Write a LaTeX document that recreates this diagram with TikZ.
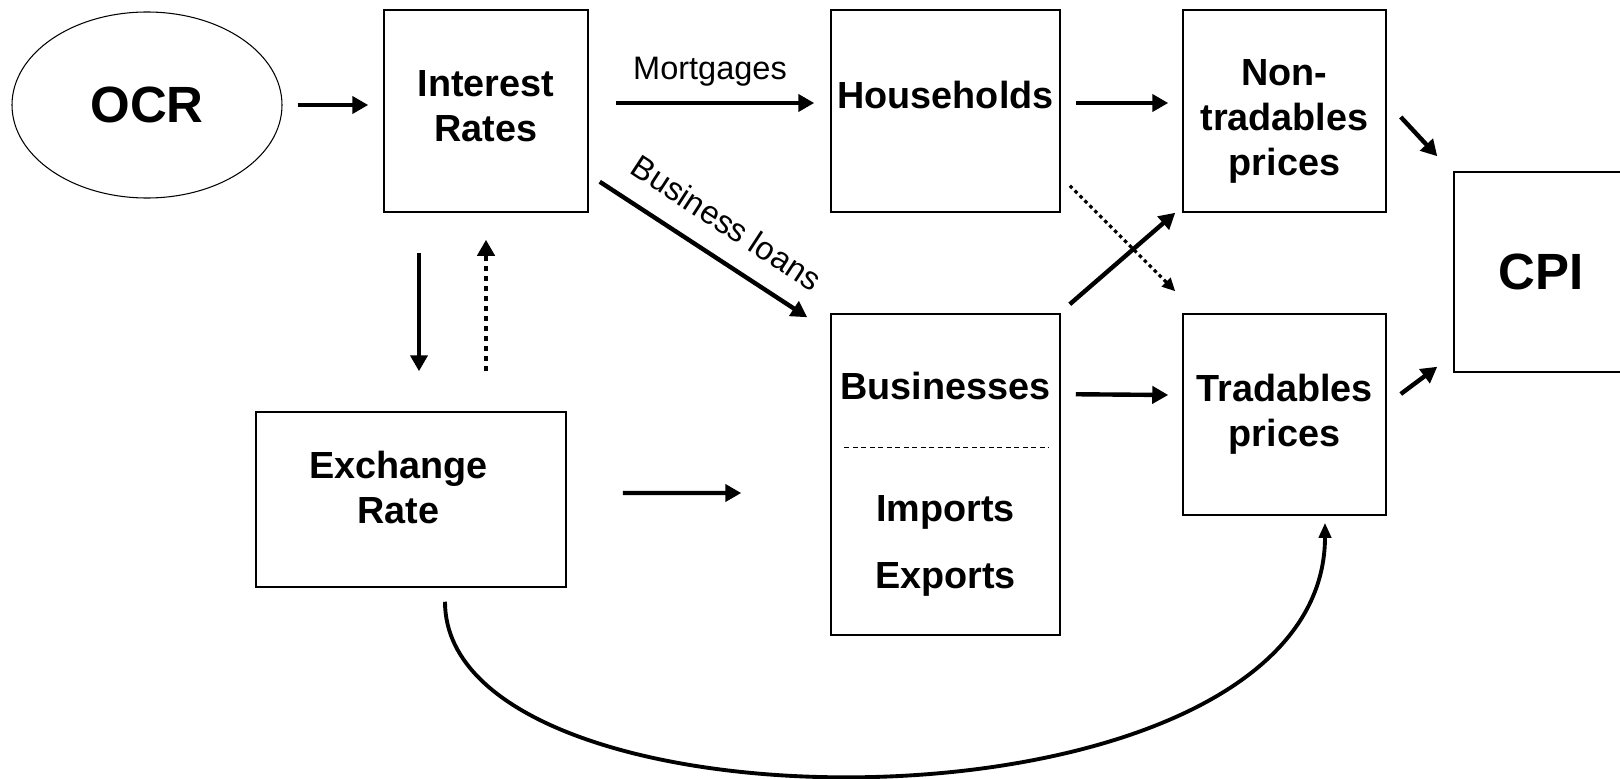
\documentclass[tikz,border=0pt]{standalone}
\usepackage{fontspec}
\setmainfont{Liberation Sans}
\usetikzlibrary{arrows.meta, positioning, shapes.geometric}

\begin{document}
\begin{tikzpicture}[x=0.2mm, y=-0.2mm,
  box/.style={draw, line width=0.85pt, inner sep=0pt, align=center,
              font=\fontsize{21.5}{25.5}\selectfont\bfseries},
  big/.style={font=\fontsize{29}{34}\selectfont\bfseries},
  arr/.style={line width=2.5pt, -{Triangle[length=3.2mm, width=3.4mm]}},
  dotarr/.style={arr, dash pattern=on 1mm off 1mm},
  finearr/.style={line width=1.8pt, dash pattern=on 0.7mm off 0.7mm,
                  -{Triangle[length=2.6mm, width=2.4mm]}},
  curvearr/.style={line width=2.2pt, -{Triangle[length=3mm, width=2.4mm]}},
  tag/.style={font=\fontsize{18.5}{22}\selectfont, inner sep=0pt}
]
\useasboundingbox (0,0) rectangle (1620,779);

\node[ellipse, draw, line width=0.6pt, minimum width=54mm, minimum height=37.2mm, big] (ocr) at (147,105) {OCR};
\node[box, minimum width=40.8mm, minimum height=40.4mm, text depth=2mm] (rates) at (486,111) {Interest\\Rates};
\node[box, minimum width=45.8mm, minimum height=40.4mm, text depth=6.4mm] (hh) at (945.5,111) {Households};
\node[box, minimum width=40.6mm, minimum height=40.4mm, text height=27.4mm] (nt) at (1284.5,111) {Non-\\tradables\\prices};
\node[box, minimum width=34.8mm, minimum height=40mm, big] (cpi) at (1541,272) {CPI};
\node[box, minimum width=62mm, minimum height=35mm, text depth=5mm] (er) at (411,499.5) {Exchange\hspace*{5mm}\\Rate\hspace*{5mm}};
\node[box, minimum width=45.8mm, minimum height=64.2mm] (bus) at (945.5,474.5) {};
\node[box, minimum width=40.6mm, minimum height=40.2mm] (tr) at (1284.5,414.5) {Tradables\\prices};

\node[box, draw=none, anchor=base] (busi) at (945.5,399) {Businesses};
\node[box, draw=none, anchor=base] (imp) at (945.5,521) {Imports};
\node[box, draw=none, anchor=base] (exp) at (945.5,588) {Exports};
\draw[line width=0.5pt, dash pattern=on 1mm off 0.7mm] ([shift={(14,-27.5)}]bus.west) -- ([shift={(-12,-27.5)}]bus.east);

\draw[arr] ([xshift=3mm]ocr.east) -- ([xshift=-3mm]ocr.east -| rates.west);
\draw[arr] ([shift={(27,-8)}]rates.east) -- node[tag, midway, above=3mm, xshift=-1mm] {Mortgages} ([shift={(-16,-8)}]hh.west);
\draw[arr] ([shift={(11,-31)}]rates.south east) -- node[tag, pos=0.52, sloped, above=4.2mm] {Business loans} ([shift={(-23,4)}]bus.north west);
\draw[arr] ([shift={(15,-8)}]hh.east) -- ([shift={(-14,-8)}]nt.west);
\draw[arr] ([shift={(14,6)}]nt.east) -- ([shift={(-16,-15)}]cpi.north west);
\draw[arr] ([shift={(14,-20.5)}]tr.east) -- ([shift={(-16,-6)}]cpi.south west);
\draw[arr] ([shift={(-67,40)}]rates.south) -- ([shift={(8,-40)}]er.north);
\draw[dotarr] ([shift={(75,-40)}]er.north) -- ([shift={(0,27)}]rates.south);
\draw[arr] ([shift={(56,-6.5)}]er.east) -- ([shift={(-89,18.5)}]bus.west);
\draw[arr] ([shift={(15,81)}]bus.north east) -- ([shift={(-14,-19.5)}]tr.west);
\draw[finearr] ([shift={(9,-27)}]hh.south east) -- ([shift={(-7,-22)}]tr.north west);
\draw[arr] ([shift={(9,-9)}]bus.north east) -- ([shift={(-7,0)}]nt.south west);
\draw[curvearr] ([shift={(34,14)}]er.south) .. controls +(0,244) and +(0,323) .. ([shift={(40.5,7)}]tr.south);
\end{tikzpicture}
\end{document}
